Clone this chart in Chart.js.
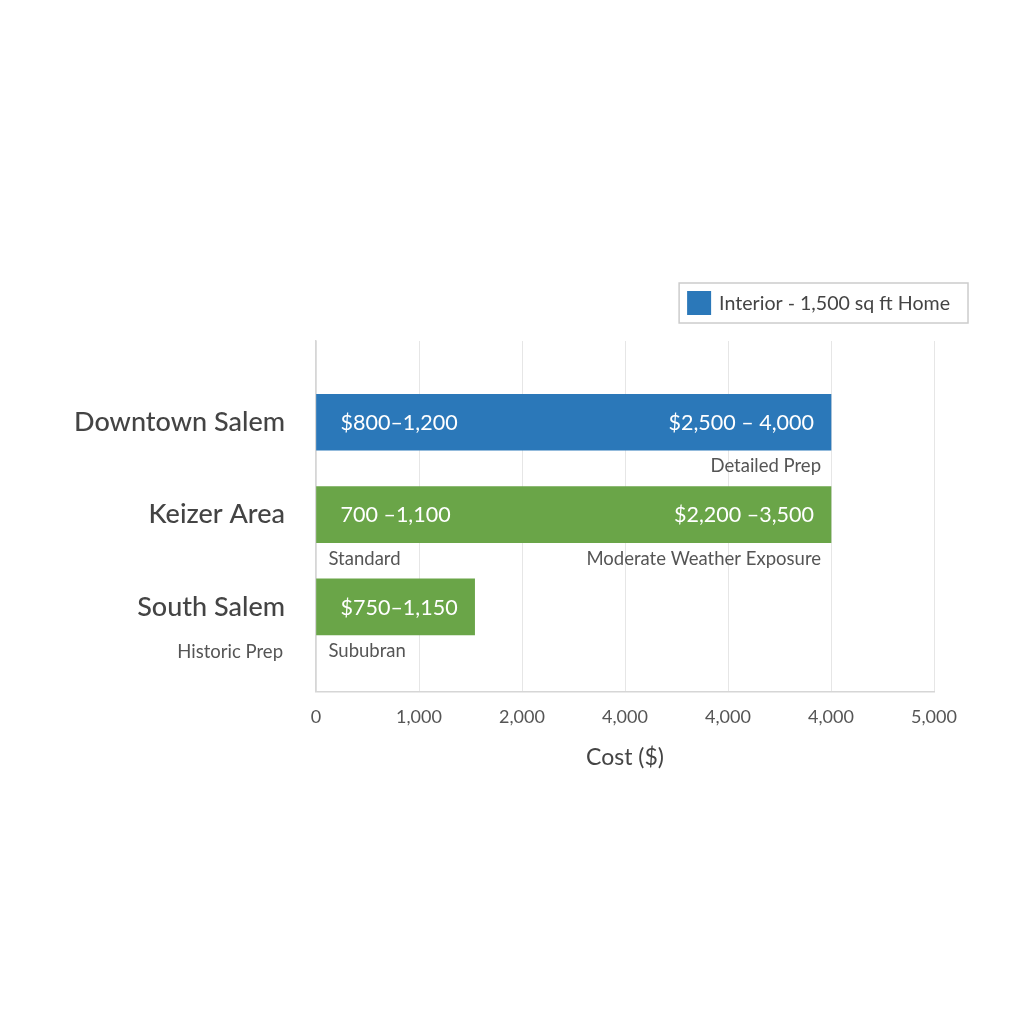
<!DOCTYPE html>
<html>
<head>
<meta charset="utf-8">
<script src="https://cdn.jsdelivr.net/npm/chart.js@4"></script>
<style>
  html, body { margin: 0; padding: 0; background: #fff; }
  #wrap { width: 1024px; height: 1024px; }
</style>
</head>
<body>
<div id="wrap"><canvas id="costChart"></canvas></div>
<script>
// data
const areas = ['Downtown Salem', 'Keizer Area', 'South Salem'];
const areaNotes = ['', '', 'Historic Prep'];
const costs = [5000, 5000, 1540];
const lowRange = ['$800\u20131,200', '700 \u20131,100', '$750\u20131,150'];
const highRange = ['$2,500 \u2013 4,000', '$2,200 \u20133,500', ''];
const noteLeft = ['', 'Standard', 'Sububran'];
const noteRight = ['Detailed Prep', 'Moderate Weather Exposure', ''];
const xTickLabels = ['0', '1,000', '2,000', '4,000', '4,000', '4,000', '5,000'];
const seriesName = 'Interior - 1,500 sq ft Home';

const BLUE = '#2b78b9';
const GREEN = '#6aa548';
const barColors = [BLUE, GREEN, GREEN];
const FONT = 'Lato, "Open Sans", sans-serif';

const annotations = {
    id: 'annotations',
    afterDatasetsDraw(chart) {
        const ctx = chart.ctx;
        const meta = chart.getDatasetMeta(0);
        const yScale = chart.scales.y;
        ctx.save();
        ctx.textBaseline = 'middle';
        meta.data.forEach((bar, i) => {
            const p = bar.getProps(['x', 'y', 'base', 'height'], true);
            const bottom = p.y + p.height / 2;
            // inside the bar
            ctx.font = '21.5px ' + FONT;
            ctx.fillStyle = '#ffffff';
            ctx.textAlign = 'left';
            ctx.fillText(lowRange[i], p.base + 24, p.y + 1);
            ctx.textAlign = 'right';
            ctx.fillText(highRange[i], p.x - 17, p.y + 1);
            // under the bar
            ctx.font = '18.5px ' + FONT;
            ctx.fillStyle = '#555555';
            ctx.textAlign = 'left';
            ctx.fillText(noteLeft[i], p.base + 12, bottom + 16);
            ctx.textAlign = 'right';
            ctx.fillText(noteRight[i], p.x - 10, bottom + 16);
            ctx.fillText(areaNotes[i], yScale.right - 33, bottom + 17);
        });
        ctx.restore();
    },
    afterDraw(chart) {
        // legend box
        const ctx = chart.ctx;
        const area = chart.chartArea;
        const right = area.right + 34;
        const top = area.top - 58;
        ctx.save();
        ctx.font = '19.6px ' + FONT;
        const tw = ctx.measureText(seriesName).width;
        const w = 8 + 24 + 8 + tw + 18;
        const left = right - w;
        ctx.strokeStyle = '#cccccc';
        ctx.lineWidth = 1.5;
        ctx.strokeRect(left, top, w, 40);
        ctx.fillStyle = BLUE;
        ctx.fillRect(left + 8, top + 8, 24, 24);
        ctx.fillStyle = '#444444';
        ctx.textAlign = 'left';
        ctx.textBaseline = 'middle';
        ctx.fillText(seriesName, left + 40, top + 21);
        ctx.restore();
    }
};

const ctx = document.getElementById('costChart').getContext('2d');
new Chart(ctx, {
    type: 'bar',
    data: {
        datasets: [{
            label: seriesName,
            data: costs.map((v, i) => ({ x: v, y: i })),
            backgroundColor: barColors,
            borderWidth: 0,
            barThickness: 56
        }]
    },
    options: {
        indexAxis: 'y',
        responsive: true,
        maintainAspectRatio: false,
        animation: false,
        layout: { padding: { top: 341, right: 90, bottom: 253, left: 0 } },
        plugins: {
            legend: { display: false },
            tooltip: { enabled: false }
        },
        scales: {
            x: {
                type: 'linear',
                min: 0,
                max: 6000,
                ticks: {
                    stepSize: 1000,
                    padding: 15,
                    color: '#555555',
                    font: { family: FONT, size: 18 },
                    callback: (v, i) => xTickLabels[i]
                },
                grid: { color: '#e6e6e6', drawTicks: false },
                border: { color: '#d6d6d6', width: 1.5 },
                title: {
                    display: true,
                    text: 'Cost ($)',
                    color: '#444444',
                    font: { family: FONT, size: 23 },
                    padding: { top: 0, bottom: 0 }
                }
            },
            y: {
                type: 'linear',
                reverse: true,
                offset: false,
                min: -0.88,
                max: 2.92,
                afterBuildTicks: scale => { scale.ticks = areas.map((a, i) => ({ value: i })); },
                afterFit: scale => { scale.width = 316; },
                ticks: {
                    padding: 31,
                    color: '#444444',
                    font: { family: FONT, size: 27, weight: '500' },
                    callback: v => areas[v]
                },
                grid: { display: false, drawTicks: false },
                border: { color: '#d6d6d6', width: 1.5 }
            }
        }
    },
    plugins: [annotations]
});
</script>
</body>
</html>
